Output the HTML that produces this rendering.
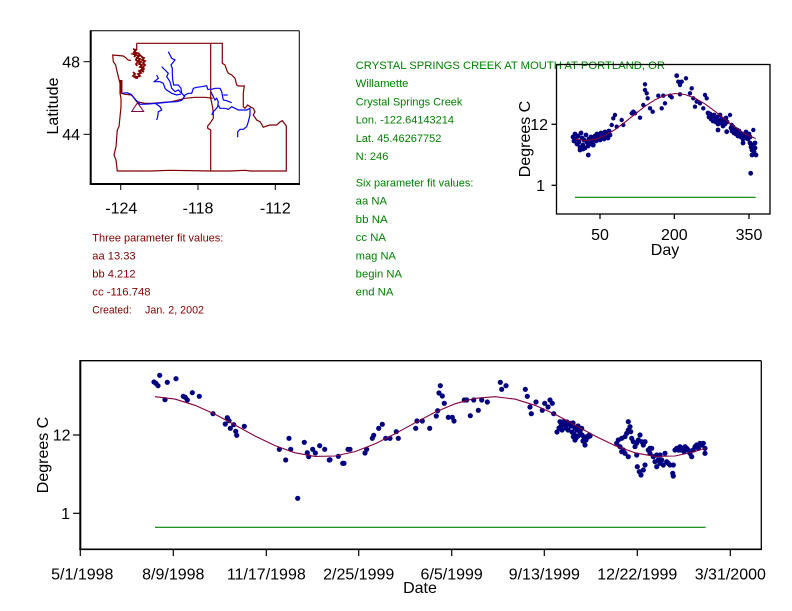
<!DOCTYPE html>
<html><head><meta charset="utf-8"><style>
html,body{margin:0;padding:0;background:#fff;}
svg{display:block;}
text{font-family:"Liberation Sans",Arial,sans-serif;}
</style></head><body>
<svg width="792" height="611" viewBox="0 0 792 611" xmlns="http://www.w3.org/2000/svg">
<rect width="792" height="611" fill="#fff"/>

<!-- ========== MAP ========== -->
<g fill="none" stroke="#000">
<line x1="90.7" y1="30.7" x2="299.3" y2="30.7" stroke-width="1"/>
<line x1="299.3" y1="30.7" x2="299.3" y2="184" stroke-width="1"/>
<line x1="90.7" y1="30.2" x2="90.7" y2="184.5" stroke-width="2"/>
<line x1="89.7" y1="184" x2="300" y2="184" stroke-width="2"/>
<line x1="120.7" y1="184" x2="120.7" y2="190"/>
<line x1="198" y1="184" x2="198" y2="190"/>
<line x1="275.3" y1="184" x2="275.3" y2="190"/>
<line x1="83.5" y1="61.7" x2="90.7" y2="61.7"/>
<line x1="83.5" y1="134.3" x2="90.7" y2="134.3"/>
</g>
<g font-size="16" fill="#000">
<text x="121.3" y="213.3" text-anchor="middle">-124</text>
<text x="198" y="213.3" text-anchor="middle">-118</text>
<text x="275.3" y="213.3" text-anchor="middle">-112</text>
<text x="80" y="67.5" text-anchor="end">48</text>
<text x="80" y="140" text-anchor="end">44</text>
<text transform="translate(58,106) rotate(-90)" text-anchor="middle">Latitude</text>
</g>
<g fill="none" stroke="#800000" stroke-width="1.2">
<polyline points="136.7,43.3 222.3,43.3 222.3,63.3 225,65 226.7,70 228.3,73.3 231.7,75 235,78.3 236.7,85 238.3,86 244.3,86 243.3,93.3 243.3,100 243.3,106.7 245,108.3 247.7,105 250,106.7 253.3,108.3 255,111.7 253.3,115 256.7,120 260,121.7 261.7,124.3 263.3,127.3 266.7,126 270,125 273.3,125 276.7,125 280,122 282.3,120.7 284.3,123.3 286.3,126 286.3,171 250,171 245,170.3 230,171 210.7,171 170,170.3 150,171 117.3,171 116,160 114,155 116,146.7 117.3,130 119,126.7 120,116.7 121,106.7 121,98.3 120,93.3 120,83.3 118.3,76.7 116.7,70 115.7,65 113.3,61.7 112.7,55 118,55.5 123.3,56 126,58 128,60 131,60.5"/>
<polyline points="136.7,43.3 136.7,50"/>
<polyline points="210.7,43.3 210.7,98.3 212,104 213.3,112 213.3,118.3 210,123.3 207.7,126 207.7,128.3 210.7,130 210.7,171"/>
<polyline points="121,93.3 125,94.3 131.7,95 136.7,101.7 145,103.3 151.7,103.3 171.7,101.7 185,98.3 195,97.3 205,97.3 212.7,98.3"/>
</g>
<!-- Puget sound clutter -->
<g fill="none" stroke="#800000" stroke-width="1.8">
<polyline points="133,49 136,50 134,52 137,53 133,54 136,55 134,57"/>
<polyline points="136,55 139,56 137,58 140,59 138,61 141,62 139,64 142,65 140,67 143,68 141,70 139,71 141,73 138,74 140,76 137,77 135,76"/>
<polyline points="138,53 140,55 142,57 144,58 142,60 145,61 143,63 145,65 143,67 144,69 142,71 144,72"/>
<polyline points="133,72 135,74 133,76 136,78 138,78"/>
<polyline points="137,57 136,60 138,62 136,64 137,66"/>
<line x1="121.2" y1="80" x2="121.2" y2="93.5" stroke-width="2.5"/>
</g>
<polygon points="131.7,111.5 137.5,102.8 143.7,111.5" fill="none" stroke="#800040" stroke-width="1"/>
<g fill="none" stroke="#0000ff" stroke-width="1.2">
<polyline points="122.3,93.3 127,92.7 131,94.3 135,99 140,104.3 148,104 160,103 170,102 176.7,101.7 181.7,100.3 183.3,98.3 185,95 188.3,93.3 191.7,93.3 193.3,88.3 196.7,87.3 201.7,86.7 206.7,85.7 207.7,89.3 211.7,89.3 215,88.3 220,88.3 221.7,91.7 222.3,95 223.3,100 226.7,100.7 231.7,102.7"/>
<polyline points="223.3,95 227.7,95"/>
<polyline points="211,91.7 213.3,96.7 215,100 216.7,98.3 218.3,101.7 217.7,106.7 215,110 213.3,111.7 211.7,115"/>
<polyline points="218.3,105 220,108.3 225,108.3 228.3,109.3 231.7,106.7 235,108.3 238.3,110 241.7,110 246.7,110 250,108.3 250,115 248.3,121.7 246.7,126.7 243.3,129.3 240,129.3 237.7,131.7 237.7,137.3"/>
<polyline points="155,103.3 160,106.7 161.7,110 158.3,111.7 157.7,116.7 156.7,120"/>
<polyline points="168.3,51.7 170,55 171.7,58.3 175,60 171,65 172.3,68.3 172.3,73.3 172.7,80 173.7,85 178.3,85 181,88.3 181.7,93.3 185,96.7"/>
<polyline points="161.7,66.7 165,70 168.3,73.3 166.7,76.7 170,81.7 171.7,88.3 175,91.7 178.3,90 181,92.7"/>
<polyline points="156.7,75 158.3,78.3 154.3,81.7 160,81.7 163.3,83.3 165,88.3 166.7,90 171.7,93.3 176.7,95 181,94"/>
</g>

<!-- ========== TEXT BLOCKS ========== -->
<g font-size="11" fill="#800000">
<text x="92.3" y="241.5" textLength="131" lengthAdjust="spacingAndGlyphs">Three parameter fit values:</text>
<text x="92.3" y="259.5" textLength="43.3" lengthAdjust="spacingAndGlyphs">aa 13.33</text>
<text x="92.3" y="277.5" textLength="43.3" lengthAdjust="spacingAndGlyphs">bb 4.212</text>
<text x="92.3" y="295.4" textLength="58.3" lengthAdjust="spacingAndGlyphs">cc -116.748</text>
<text x="92.3" y="313.3" textLength="39.4" lengthAdjust="spacingAndGlyphs">Created:</text>
<text x="145" y="313.3" textLength="59" lengthAdjust="spacingAndGlyphs">Jan. 2, 2002</text>
</g>
<g font-size="11" fill="#008000">
<text x="355.7" y="69" textLength="309.3" lengthAdjust="spacingAndGlyphs">CRYSTAL SPRINGS CREEK AT MOUTH AT PORTLAND, OR</text>
<text x="355.7" y="87.2" textLength="52.7" lengthAdjust="spacingAndGlyphs">Willamette</text>
<text x="355.7" y="105.4" textLength="106.7" lengthAdjust="spacingAndGlyphs">Crystal Springs Creek</text>
<text x="355.7" y="123.6" textLength="98.3" lengthAdjust="spacingAndGlyphs">Lon. -122.64143214</text>
<text x="355.7" y="141.8" textLength="85.7" lengthAdjust="spacingAndGlyphs">Lat. 45.46267752</text>
<text x="355.7" y="160" textLength="32.7" lengthAdjust="spacingAndGlyphs">N: 246</text>
<text x="355.7" y="186.5" textLength="117.7" lengthAdjust="spacingAndGlyphs">Six parameter fit values:</text>
<text x="355.7" y="204.7" textLength="31.3" lengthAdjust="spacingAndGlyphs">aa NA</text>
<text x="355.7" y="222.9" textLength="32" lengthAdjust="spacingAndGlyphs">bb NA</text>
<text x="355.7" y="241.1" textLength="30.3" lengthAdjust="spacingAndGlyphs">cc NA</text>
<text x="355.7" y="259.3" textLength="40.3" lengthAdjust="spacingAndGlyphs">mag NA</text>
<text x="355.7" y="277.5" textLength="46.3" lengthAdjust="spacingAndGlyphs">begin NA</text>
<text x="355.7" y="295.7" textLength="37.7" lengthAdjust="spacingAndGlyphs">end NA</text>
</g>

<!-- ========== SMALL DAY PLOT ========== -->
<g fill="none" stroke="#000" stroke-width="1.3">
<rect x="556.5" y="64.5" width="213.5" height="149.5"/>
<line x1="600" y1="214" x2="600" y2="219"/>
<line x1="674.3" y1="214" x2="674.3" y2="219"/>
<line x1="749" y1="214" x2="749" y2="219"/>
<line x1="551.5" y1="124.3" x2="556.5" y2="124.3"/>
<line x1="551.5" y1="185.3" x2="556.5" y2="185.3"/>
</g>
<g font-size="16" fill="#000">
<text x="600" y="240" text-anchor="middle">50</text>
<text x="674.3" y="240" text-anchor="middle">200</text>
<text x="749" y="240" text-anchor="middle">350</text>
<text x="548" y="130" text-anchor="end">12</text>
<text x="545" y="191" text-anchor="end">1</text>
<text x="665" y="255" text-anchor="middle">Day</text>
<text transform="translate(530,139) rotate(-90)" text-anchor="middle">Degrees C</text>
</g>
<line x1="575" y1="197.3" x2="755.7" y2="197.3" stroke="#008000" stroke-width="1.2"/>
<g fill="#000080">
<circle cx="573" cy="137" r="2.4"/><circle cx="574" cy="141" r="2.4"/><circle cx="575" cy="134" r="2.4"/><circle cx="576" cy="139" r="2.4"/><circle cx="577" cy="144" r="2.4"/><circle cx="578" cy="136" r="2.4"/><circle cx="579" cy="142" r="2.4"/><circle cx="580" cy="147" r="2.4"/><circle cx="581" cy="133" r="2.4"/><circle cx="582" cy="138" r="2.4"/><circle cx="583" cy="145" r="2.4"/><circle cx="584" cy="140" r="2.4"/><circle cx="585" cy="148" r="2.4"/><circle cx="586" cy="135" r="2.4"/><circle cx="587" cy="142" r="2.4"/><circle cx="588" cy="146" r="2.4"/><circle cx="589" cy="139" r="2.4"/><circle cx="590" cy="144" r="2.4"/><circle cx="591" cy="137" r="2.4"/><circle cx="592" cy="141" r="2.4"/><circle cx="593" cy="145" r="2.4"/><circle cx="594" cy="138" r="2.4"/><circle cx="595" cy="136" r="2.4"/><circle cx="596" cy="141" r="2.4"/><circle cx="597" cy="134" r="2.4"/><circle cx="598" cy="139" r="2.4"/><circle cx="599" cy="136" r="2.4"/><circle cx="600" cy="140" r="2.4"/><circle cx="601" cy="133" r="2.4"/><circle cx="602" cy="137" r="2.4"/><circle cx="603" cy="135" r="2.4"/><circle cx="604" cy="139" r="2.4"/><circle cx="605" cy="132" r="2.4"/><circle cx="606" cy="136" r="2.4"/><circle cx="607" cy="134" r="2.4"/><circle cx="608" cy="138" r="2.4"/><circle cx="609" cy="131" r="2.4"/><circle cx="610" cy="135" r="2.4"/><circle cx="588.3" cy="155" r="2.4"/><circle cx="593.3" cy="145" r="2.4"/><circle cx="580" cy="150" r="2.4"/><circle cx="583" cy="149" r="2.4"/>
<circle cx="611.7" cy="125" r="2.2"/><circle cx="613.3" cy="118.3" r="2.2"/><circle cx="615" cy="115" r="2.2"/><circle cx="616.7" cy="126.7" r="2.2"/><circle cx="621.7" cy="120" r="2.2"/><circle cx="623.3" cy="125" r="2.2"/><circle cx="631.7" cy="113.3" r="2.2"/><circle cx="633.3" cy="111.7" r="2.2"/><circle cx="635" cy="113.3" r="2.2"/><circle cx="640" cy="117.7" r="2.2"/><circle cx="643.3" cy="105" r="2.2"/><circle cx="645" cy="90" r="2.2"/><circle cx="646.7" cy="93.3" r="2.2"/><circle cx="647.7" cy="98.3" r="2.2"/><circle cx="645" cy="84.3" r="2.2"/><circle cx="650" cy="108.3" r="2.2"/><circle cx="652.7" cy="111.7" r="2.2"/><circle cx="658.3" cy="95.7" r="2.2"/><circle cx="661.7" cy="108.3" r="2.2"/><circle cx="665" cy="103.3" r="2.2"/><circle cx="663.3" cy="95.7" r="2.2"/><circle cx="670" cy="95.7" r="2.2"/><circle cx="671.7" cy="97.3" r="2.2"/><circle cx="676.7" cy="75.7" r="2.4"/><circle cx="678.3" cy="81.7" r="2.2"/><circle cx="680" cy="85" r="2.2"/><circle cx="681.7" cy="81.7" r="2.2"/><circle cx="686" cy="78.3" r="2.2"/><circle cx="680" cy="94.3" r="2.2"/><circle cx="690" cy="93.3" r="2.2"/><circle cx="691.7" cy="88.3" r="2.2"/><circle cx="693.3" cy="98.3" r="2.2"/><circle cx="695" cy="106.7" r="2.2"/><circle cx="696.7" cy="101.7" r="2.2"/><circle cx="700" cy="103.3" r="2.2"/><circle cx="705" cy="95" r="2.2"/><circle cx="706.7" cy="98.3" r="2.2"/><circle cx="703.3" cy="108.3" r="2.2"/>
<circle cx="708" cy="113" r="2.4"/><circle cx="709" cy="117" r="2.4"/><circle cx="710" cy="114" r="2.4"/><circle cx="711" cy="119" r="2.4"/><circle cx="712" cy="116" r="2.4"/><circle cx="713" cy="121" r="2.4"/><circle cx="714" cy="115" r="2.4"/><circle cx="715" cy="118" r="2.4"/><circle cx="716" cy="122" r="2.4"/><circle cx="717" cy="117" r="2.4"/><circle cx="718" cy="124" r="2.4"/><circle cx="719" cy="120" r="2.4"/><circle cx="720" cy="115" r="2.4"/><circle cx="721" cy="123" r="2.4"/><circle cx="722" cy="119" r="2.4"/><circle cx="723" cy="126" r="2.4"/><circle cx="724" cy="121" r="2.4"/><circle cx="725" cy="124" r="2.4"/><circle cx="726" cy="118" r="2.4"/><circle cx="727" cy="122" r="2.4"/><circle cx="718" cy="130" r="2.4"/><circle cx="726.7" cy="131.7" r="2.4"/><circle cx="730" cy="115" r="2.2"/><circle cx="731.7" cy="125" r="2.2"/>
<circle cx="731" cy="128" r="2.4"/><circle cx="732" cy="131" r="2.4"/><circle cx="733" cy="127" r="2.4"/><circle cx="734" cy="133" r="2.4"/><circle cx="735" cy="129" r="2.4"/><circle cx="736" cy="134" r="2.4"/><circle cx="737" cy="130" r="2.4"/><circle cx="738" cy="136" r="2.4"/><circle cx="739" cy="131" r="2.4"/><circle cx="740" cy="133" r="2.4"/><circle cx="741" cy="137" r="2.4"/><circle cx="742" cy="134" r="2.4"/><circle cx="743" cy="139" r="2.4"/><circle cx="744" cy="135" r="2.4"/><circle cx="745" cy="138" r="2.4"/><circle cx="746" cy="132" r="2.4"/><circle cx="747" cy="136" r="2.4"/><circle cx="748" cy="139" r="2.4"/><circle cx="749" cy="134" r="2.4"/><circle cx="750" cy="137" r="2.4"/><circle cx="743" cy="143" r="2.4"/><circle cx="753.3" cy="130" r="2.2"/>
<circle cx="750" cy="143" r="2.4"/><circle cx="751" cy="147" r="2.4"/><circle cx="752" cy="150" r="2.4"/><circle cx="753" cy="145" r="2.4"/><circle cx="754" cy="152" r="2.4"/><circle cx="755" cy="148" r="2.4"/><circle cx="756" cy="155" r="2.4"/><circle cx="752" cy="155" r="2.4"/><circle cx="755" cy="143" r="2.4"/><circle cx="750.7" cy="173.3" r="2.4"/>
</g>
<polyline fill="none" stroke="#800040" stroke-width="1.1" points="575,138.8 585,140.5 595,139.4 605,135.6 615,129.6 625,122.2 635,114.1 645,106.3 655,99.8 665,95.4 675,93.5 685,94.5 695,98.1 705,103.9 715,111.3 725,119.4 735,127.2 745,133.8 755.7,138.6"/>

<!-- ========== BOTTOM DATE PLOT ========== -->
<g fill="none" stroke="#000">
<line x1="80" y1="360.7" x2="761.3" y2="360.7" stroke-width="1.3"/>
<line x1="761.3" y1="360.7" x2="761.3" y2="549.3" stroke-width="1.3"/>
<line x1="80.3" y1="360" x2="80.3" y2="550" stroke-width="2"/>
<line x1="79.3" y1="549.3" x2="762" y2="549.3" stroke-width="1.6"/>
<g stroke-width="1.2">
<line x1="80.3" y1="549" x2="80.3" y2="556"/>
<line x1="173.3" y1="549" x2="173.3" y2="556"/>
<line x1="266.3" y1="549" x2="266.3" y2="556"/>
<line x1="358.7" y1="549" x2="358.7" y2="556"/>
<line x1="451.7" y1="549" x2="451.7" y2="556"/>
<line x1="544.3" y1="549" x2="544.3" y2="556"/>
<line x1="637.3" y1="549" x2="637.3" y2="556"/>
<line x1="730.3" y1="549" x2="730.3" y2="556"/>
<line x1="73" y1="435" x2="80" y2="435"/>
<line x1="73" y1="513.3" x2="80" y2="513.3"/>
</g>
</g>
<g font-size="16" fill="#000">
<text x="82.3" y="579.3" text-anchor="middle">5/1/1998</text>
<text x="173.3" y="579.3" text-anchor="middle">8/9/1998</text>
<text x="266.3" y="579.3" text-anchor="middle">11/17/1998</text>
<text x="358.7" y="579.3" text-anchor="middle">2/25/1999</text>
<text x="451.7" y="579.3" text-anchor="middle">6/5/1999</text>
<text x="544.3" y="579.3" text-anchor="middle">9/13/1999</text>
<text x="637.3" y="579.3" text-anchor="middle">12/22/1999</text>
<text x="730.3" y="579.3" text-anchor="middle">3/31/2000</text>
<text x="70.5" y="440.7" text-anchor="end">12</text>
<text x="70" y="519" text-anchor="end">1</text>
<text x="420" y="593" text-anchor="middle">Date</text>
<text transform="translate(48,455) rotate(-90)" text-anchor="middle">Degrees C</text>
</g>
<line x1="155" y1="527.3" x2="705.7" y2="527.3" stroke="#008000" stroke-width="1.2"/>
<g fill="#000080">
<circle cx="154" cy="382" r="2.6"/><circle cx="156" cy="383.3" r="2.6"/><circle cx="158" cy="385.7" r="2.6"/><circle cx="159.7" cy="375.3" r="2.6"/><circle cx="167.3" cy="382.3" r="2.6"/><circle cx="165" cy="399.7" r="2.6"/><circle cx="176" cy="378.7" r="2.6"/><circle cx="183.3" cy="396.3" r="2.6"/><circle cx="185.3" cy="397.3" r="2.6"/><circle cx="187.3" cy="400" r="2.6"/><circle cx="192.3" cy="392.7" r="2.6"/><circle cx="199.3" cy="396.3" r="2.6"/><circle cx="213" cy="413.7" r="2.6"/><circle cx="225.3" cy="424" r="2.6"/><circle cx="227.3" cy="417.7" r="2.6"/><circle cx="229" cy="420.7" r="2.6"/><circle cx="230.3" cy="428.3" r="2.6"/><circle cx="233.7" cy="424.7" r="2.6"/><circle cx="235.7" cy="431.3" r="2.6"/><circle cx="236.7" cy="435.3" r="2.6"/><circle cx="244.3" cy="426.3" r="2.6"/><circle cx="279.3" cy="449.3" r="2.6"/><circle cx="285.7" cy="460" r="2.6"/><circle cx="289" cy="438.3" r="2.6"/><circle cx="290.7" cy="449.3" r="2.6"/><circle cx="297.7" cy="498.3" r="2.6"/><circle cx="304.3" cy="442.3" r="2.6"/><circle cx="307.3" cy="452.7" r="2.6"/><circle cx="308.7" cy="456.7" r="2.6"/><circle cx="312.7" cy="449.3" r="2.6"/><circle cx="315.3" cy="453" r="2.6"/><circle cx="319.7" cy="445.7" r="2.6"/><circle cx="324.7" cy="449.3" r="2.6"/><circle cx="329.3" cy="460" r="2.6"/>
<circle cx="330" cy="459.7" r="2.6"/><circle cx="338.3" cy="456.3" r="2.6"/><circle cx="342.7" cy="463.3" r="2.6"/><circle cx="344" cy="463.3" r="2.6"/><circle cx="348" cy="449.3" r="2.6"/><circle cx="350" cy="449.3" r="2.6"/><circle cx="365" cy="453" r="2.6"/><circle cx="366.7" cy="449.3" r="2.6"/><circle cx="372.3" cy="438.3" r="2.6"/><circle cx="373.7" cy="435.3" r="2.6"/><circle cx="378.7" cy="428.3" r="2.6"/><circle cx="382.3" cy="424.3" r="2.6"/><circle cx="385.7" cy="438.3" r="2.6"/><circle cx="390" cy="438.3" r="2.6"/><circle cx="396.3" cy="431.7" r="2.6"/><circle cx="398.3" cy="438.3" r="2.6"/><circle cx="415.7" cy="428.3" r="2.6"/><circle cx="417" cy="421" r="2.6"/><circle cx="422.3" cy="421" r="2.6"/><circle cx="429.7" cy="428.3" r="2.6"/><circle cx="436.3" cy="416" r="2.6"/><circle cx="437.7" cy="410.7" r="2.6"/><circle cx="439" cy="393" r="2.6"/><circle cx="440.3" cy="385.7" r="2.6"/><circle cx="442.3" cy="396" r="2.6"/><circle cx="444.3" cy="403.3" r="2.6"/><circle cx="448.3" cy="417.3" r="2.6"/><circle cx="452.3" cy="417.3" r="2.6"/><circle cx="454" cy="421" r="2.6"/><circle cx="464.3" cy="400" r="2.6"/><circle cx="466.7" cy="400" r="2.6"/><circle cx="470.3" cy="415.7" r="2.6"/><circle cx="473.7" cy="400" r="2.6"/><circle cx="478.3" cy="410.3" r="2.6"/><circle cx="481.7" cy="400" r="2.6"/><circle cx="487.3" cy="402" r="2.6"/><circle cx="500.3" cy="382.3" r="2.6"/><circle cx="501.7" cy="389.3" r="2.6"/><circle cx="506" cy="385.7" r="2.6"/><circle cx="525.3" cy="389.3" r="2.6"/><circle cx="527.3" cy="396.3" r="2.6"/><circle cx="530" cy="407" r="2.6"/><circle cx="531.3" cy="413.7" r="2.6"/><circle cx="536" cy="402" r="2.6"/><circle cx="542.3" cy="410.3" r="2.6"/><circle cx="544.7" cy="403.3" r="2.6"/><circle cx="548" cy="407" r="2.6"/><circle cx="550" cy="400" r="2.6"/><circle cx="552.3" cy="403.3" r="2.6"/><circle cx="553.7" cy="413.7" r="2.6"/>
<circle cx="557" cy="432" r="2.6"/><circle cx="559" cy="428" r="2.6"/><circle cx="561" cy="426" r="2.6"/><circle cx="563" cy="424" r="2.6"/><circle cx="565" cy="425" r="2.6"/><circle cx="567" cy="422" r="2.6"/><circle cx="569" cy="424" r="2.6"/><circle cx="571" cy="426" r="2.6"/><circle cx="573" cy="423" r="2.6"/><circle cx="575" cy="428" r="2.6"/><circle cx="577" cy="430" r="2.6"/><circle cx="574" cy="434" r="2.6"/><circle cx="578" cy="436" r="2.6"/><circle cx="580" cy="432" r="2.6"/><circle cx="582" cy="435" r="2.6"/><circle cx="584" cy="437" r="2.6"/><circle cx="586" cy="440" r="2.6"/><circle cx="588" cy="437" r="2.6"/><circle cx="590" cy="436" r="2.6"/><circle cx="583" cy="441" r="2.6"/><circle cx="576" cy="438" r="2.6"/><circle cx="572" cy="432" r="2.6"/><circle cx="568" cy="430" r="2.6"/><circle cx="566" cy="428" r="2.6"/><circle cx="562" cy="430" r="2.6"/><circle cx="585" cy="445" r="2.6"/><circle cx="580" cy="430" r="2.6"/><circle cx="578" cy="426" r="2.6"/><circle cx="560" cy="421.7" r="2.6"/><circle cx="563.3" cy="421.7" r="2.6"/><circle cx="570" cy="423.3" r="2.6"/><circle cx="575" cy="440" r="2.6"/><circle cx="573.3" cy="436.7" r="2.6"/><circle cx="581.7" cy="428.3" r="2.6"/><circle cx="586.7" cy="436.7" r="2.6"/><circle cx="589.3" cy="435" r="2.6"/>
<circle cx="616.7" cy="443.3" r="2.6"/><circle cx="618.3" cy="440" r="2.6"/><circle cx="620" cy="446.7" r="2.6"/><circle cx="621.7" cy="438.3" r="2.6"/><circle cx="623.3" cy="450" r="2.6"/><circle cx="625" cy="436.7" r="2.6"/><circle cx="626.7" cy="433.3" r="2.6"/><circle cx="628.3" cy="430" r="2.6"/><circle cx="628.3" cy="421.7" r="2.6"/><circle cx="630" cy="426.7" r="2.6"/><circle cx="630.7" cy="431.7" r="2.6"/><circle cx="631.7" cy="438.3" r="2.6"/><circle cx="633.3" cy="441.7" r="2.6"/><circle cx="635" cy="446.7" r="2.6"/><circle cx="636.7" cy="443.3" r="2.6"/><circle cx="638.3" cy="440" r="2.6"/><circle cx="640" cy="435" r="2.6"/><circle cx="641.7" cy="441.7" r="2.6"/><circle cx="643.3" cy="445" r="2.6"/><circle cx="645" cy="441.7" r="2.6"/><circle cx="628.3" cy="456.7" r="2.6"/><circle cx="625" cy="453.3" r="2.6"/><circle cx="621.7" cy="451.7" r="2.6"/><circle cx="636.7" cy="455" r="2.6"/><circle cx="637.3" cy="466.7" r="2.6"/><circle cx="639.3" cy="471.7" r="2.6"/><circle cx="641" cy="475" r="2.6"/><circle cx="643.3" cy="470" r="2.6"/><circle cx="645" cy="465" r="2.6"/>
<circle cx="648.3" cy="450" r="2.6"/><circle cx="650" cy="453.3" r="2.6"/><circle cx="651.7" cy="448.3" r="2.6"/><circle cx="653.3" cy="456.7" r="2.6"/><circle cx="655" cy="461.7" r="2.6"/><circle cx="656.7" cy="466.7" r="2.6"/><circle cx="658.3" cy="460" r="2.6"/><circle cx="660" cy="463.3" r="2.6"/><circle cx="661.7" cy="460" r="2.6"/><circle cx="663.3" cy="465" r="2.6"/><circle cx="665" cy="453.3" r="2.6"/><circle cx="666.7" cy="461.7" r="2.6"/><circle cx="668.3" cy="463.3" r="2.6"/><circle cx="670" cy="465" r="2.6"/><circle cx="673.3" cy="465" r="2.6"/><circle cx="672.7" cy="473.3" r="2.6"/><circle cx="673.3" cy="476" r="2.6"/><circle cx="650" cy="448.3" r="2.6"/><circle cx="656.7" cy="455" r="2.6"/><circle cx="660" cy="455" r="2.6"/>
<circle cx="675" cy="450" r="2.6"/><circle cx="676.7" cy="448.3" r="2.6"/><circle cx="678.3" cy="450" r="2.6"/><circle cx="680" cy="446.7" r="2.6"/><circle cx="681.7" cy="448.3" r="2.6"/><circle cx="683.3" cy="450" r="2.6"/><circle cx="685" cy="446.7" r="2.6"/><circle cx="686.7" cy="448.3" r="2.6"/><circle cx="688.3" cy="450" r="2.6"/><circle cx="690" cy="453.3" r="2.6"/><circle cx="691.7" cy="456.7" r="2.6"/><circle cx="693.3" cy="450" r="2.6"/><circle cx="695" cy="446.7" r="2.6"/><circle cx="696.7" cy="445" r="2.6"/><circle cx="698.3" cy="448.3" r="2.6"/><circle cx="700" cy="443.3" r="2.6"/><circle cx="701.7" cy="445" r="2.6"/><circle cx="703.3" cy="443.3" r="2.6"/><circle cx="705" cy="448.3" r="2.6"/><circle cx="705" cy="453.3" r="2.6"/><circle cx="680" cy="450" r="2.6"/><circle cx="684" cy="451.7" r="2.6"/>
</g>
<polyline fill="none" stroke="#800040" stroke-width="1.1" points="155,396.7 175,399.1 195,405.3 215,414.3 235,425 255,436 275,445.6 295,452.8 315,456.4 335,456 355,451.6 375,443.9 395,433.8 415,422.8 435,412.3 455,403.8 475,398.3 495,396.7 515,399.1 535,405.3 555,414.3 575,425 595,436 615,445.6 635,452.8 655,456.4 675,456 695,451.6 705.7,447.9"/>
</svg>
</body></html>
